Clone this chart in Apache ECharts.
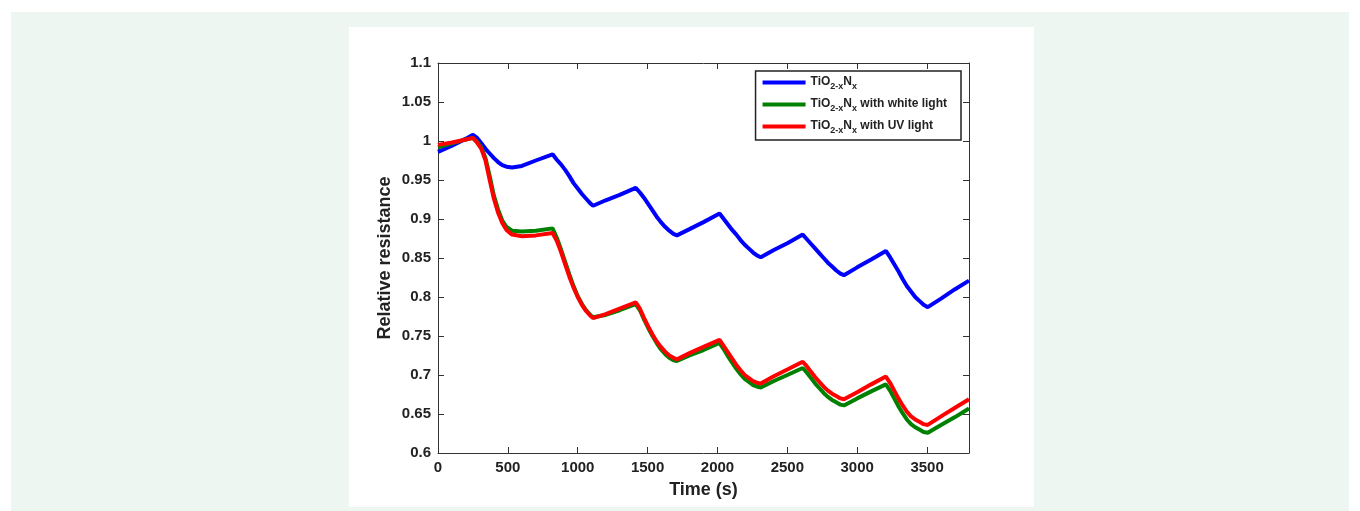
<!DOCTYPE html>
<html>
<head>
<meta charset="utf-8">
<script src="https://cdn.jsdelivr.net/npm/echarts@6/dist/echarts.min.js"></script>
<style>
html,body{margin:0;padding:0;background:#fff;}
#outer{position:absolute;left:11px;top:12px;width:1338px;height:499px;background:#edf6f1;}
#inner{position:absolute;left:349px;top:27px;width:685px;height:480px;background:#fff;}
#chart{position:absolute;left:0;top:0;width:1360px;height:511px;}
</style>
</head>
<body>
<div id="outer"></div>
<div id="inner"></div>
<div id="chart"></div>
<script>
const seriesNames = ['TiO2-xNx', 'TiO2-xNx with white light', 'TiO2-xNx with UV light'];
const times = [0,100,200,250,280,310,340,370,400,430,460,490,530,600,700,820,850,880,910,940,970,1000,1030,1060,1090,1110,1200,1300,1415,1445,1475,1505,1535,1565,1595,1625,1655,1685,1710,1800,1900,2015,2045,2075,2105,2135,2165,2195,2225,2255,2285,2310,2400,2500,2610,2640,2670,2700,2730,2760,2790,2820,2850,2880,2905,3000,3100,3205,3235,3265,3295,3325,3355,3385,3415,3445,3475,3505,3600,3700,3800];
const blue = [0.986,0.994,1.003,1.008,1.004,0.997,0.990,0.984,0.978,0.973,0.969,0.967,0.966,0.968,0.975,0.983,0.976,0.970,0.963,0.955,0.946,0.939,0.932,0.926,0.920,0.917,0.924,0.931,0.940,0.934,0.927,0.919,0.911,0.903,0.896,0.890,0.885,0.881,0.879,0.887,0.896,0.907,0.900,0.893,0.886,0.880,0.873,0.867,0.862,0.857,0.853,0.851,0.860,0.869,0.880,0.874,0.868,0.862,0.856,0.850,0.844,0.839,0.834,0.830,0.828,0.838,0.848,0.859,0.851,0.842,0.833,0.823,0.814,0.807,0.800,0.795,0.790,0.787,0.798,0.810,0.821];
const green = [0.992,0.997,1.002,1.004,0.999,0.992,0.978,0.955,0.930,0.912,0.898,0.890,0.885,0.884,0.885,0.888,0.876,0.861,0.845,0.829,0.814,0.801,0.791,0.783,0.777,0.774,0.777,0.783,0.791,0.783,0.771,0.760,0.750,0.741,0.733,0.727,0.722,0.719,0.718,0.725,0.732,0.741,0.733,0.724,0.716,0.708,0.701,0.695,0.691,0.687,0.685,0.684,0.692,0.700,0.709,0.703,0.696,0.689,0.683,0.677,0.672,0.668,0.665,0.662,0.661,0.670,0.679,0.688,0.680,0.670,0.660,0.651,0.643,0.637,0.633,0.630,0.627,0.626,0.636,0.646,0.657];
const red = [0.995,0.998,1.002,1.004,0.998,0.990,0.975,0.950,0.926,0.908,0.895,0.886,0.880,0.878,0.879,0.882,0.872,0.858,0.842,0.826,0.812,0.800,0.790,0.782,0.776,0.773,0.778,0.785,0.793,0.785,0.773,0.762,0.752,0.743,0.736,0.730,0.725,0.722,0.720,0.728,0.736,0.745,0.737,0.729,0.721,0.713,0.706,0.700,0.696,0.692,0.690,0.689,0.698,0.707,0.717,0.711,0.704,0.697,0.691,0.685,0.680,0.676,0.673,0.670,0.669,0.678,0.688,0.698,0.690,0.680,0.670,0.661,0.653,0.647,0.643,0.640,0.637,0.636,0.647,0.658,0.669];
const colors = ['#0000ff', '#008000', '#ff0000'];

const chart = echarts.init(document.getElementById('chart'), null, {renderer: 'canvas'});
const pair = (arr) => times.map((t, i) => [t, arr[i]]);
const FF = 'Liberation Sans, Arial, sans-serif';
const axisText = {color: '#222', fontFamily: FF, fontWeight: 'bold', fontSize: 15};
const lineStyleAxis = {color: '#333', width: 1};

function mkSeries(name, arr, color) {
  return {
    name: name, type: 'line', data: pair(arr), showSymbol: false, symbol: 'none',
    smooth: false, lineStyle: {color: color, width: 4}, itemStyle: {color: color},
    animation: false, z: 2
  };
}

chart.setOption({
  animation: false,
  grid: {left: 438, right: 391, top: 63, bottom: 58, containLabel: false},
  legend: {
    right: 399, top: 71, orient: 'vertical',
    backgroundColor: '#fff', borderColor: '#222', borderWidth: 1.5,
    padding: [5, 14, 5, 7],
    itemWidth: 43, itemHeight: 4, itemGap: 7, icon: 'rect',
    data: seriesNames,
    formatter: function (n) {
      const rest = n.replace('TiO2-xNx', '');
      return '{t|TiO}{s|2-x}{t|N}{s|x}{t|' + rest + '}';
    },
    textStyle: {
      color: '#222', fontFamily: FF, fontWeight: 'bold', fontSize: 12,
      rich: {
        t: {fontSize: 12, fontWeight: 'bold', color: '#222', fontFamily: FF, verticalAlign: 'top', lineHeight: 13},
        s: {fontSize: 9, fontWeight: 'bold', color: '#222', fontFamily: FF, verticalAlign: 'top', lineHeight: 9, padding: [6, 0, 0, 0]}
      }
    }
  },
  xAxis: [{
    type: 'value', min: 0, max: 3800, interval: 500, position: 'bottom',
    name: 'Time (s)', nameLocation: 'middle', nameGap: 28,
    nameTextStyle: {color: '#222', fontFamily: FF, fontWeight: 'bold', fontSize: 18},
    axisLine: {show: true, onZero: false, lineStyle: lineStyleAxis},
    axisTick: {show: true, inside: true, length: 6, lineStyle: lineStyleAxis},
    axisLabel: Object.assign({margin: 7, showMaxLabel: false, formatter: v => String(v)}, axisText),
    splitLine: {show: false}
  }, {
    type: 'value', min: 0, max: 3800, interval: 500, position: 'top',
    axisLine: {show: true, onZero: false, lineStyle: lineStyleAxis},
    axisTick: {show: true, inside: true, length: 6, lineStyle: lineStyleAxis},
    axisLabel: {show: false}, splitLine: {show: false}
  }],
  yAxis: [{
    type: 'value', min: 0.6, max: 1.1, interval: 0.05, position: 'left',
    name: 'Relative resistance', nameLocation: 'middle', nameGap: 44,
    nameTextStyle: {color: '#222', fontFamily: FF, fontWeight: 'bold', fontSize: 18},
    axisLine: {show: true, onZero: false, lineStyle: lineStyleAxis},
    axisTick: {show: true, inside: true, length: 6, lineStyle: lineStyleAxis},
    axisLabel: Object.assign({margin: 7, formatter: v => String(+v.toFixed(2))}, axisText),
    splitLine: {show: false}
  }, {
    type: 'value', min: 0.6, max: 1.1, interval: 0.05, position: 'right',
    axisLine: {show: true, onZero: false, lineStyle: lineStyleAxis},
    axisTick: {show: true, inside: true, length: 6, lineStyle: lineStyleAxis},
    axisLabel: {show: false}, splitLine: {show: false}
  }],
  series: [
    mkSeries(seriesNames[0], blue, colors[0]),
    mkSeries(seriesNames[1], green, colors[1]),
    mkSeries(seriesNames[2], red, colors[2])
  ]
});
</script>
</body>
</html>
